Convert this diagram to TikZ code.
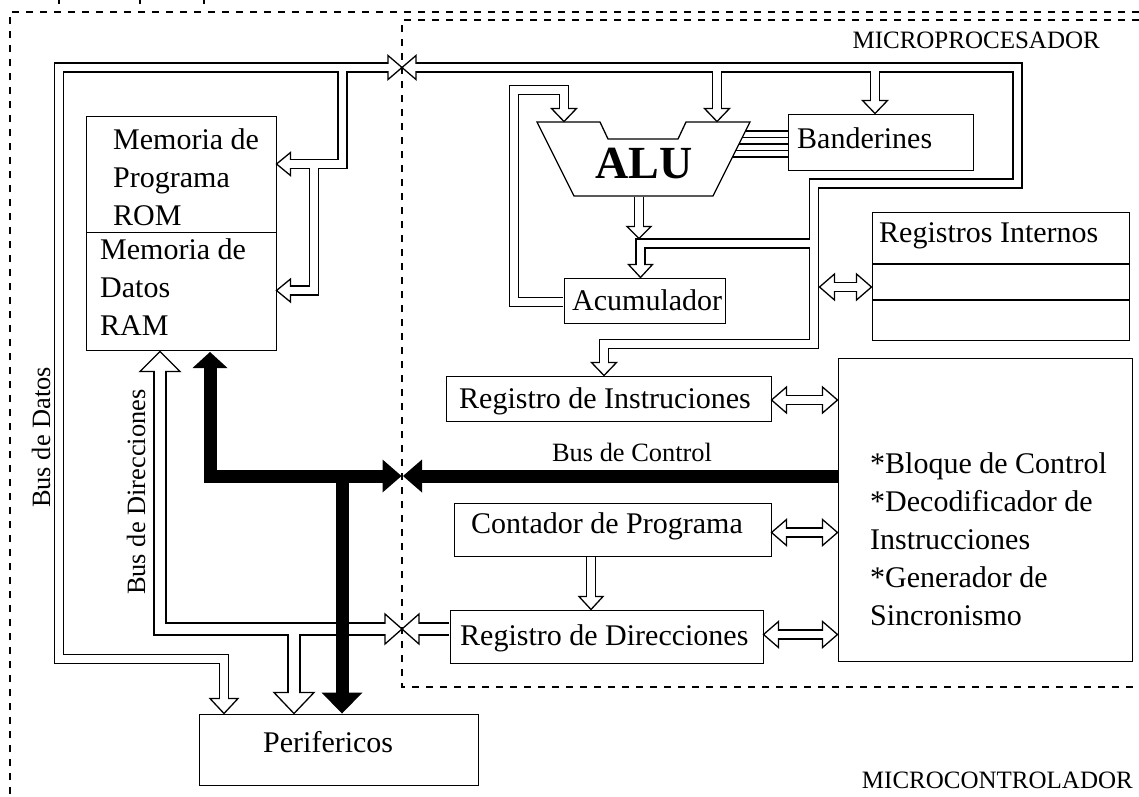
\documentclass[tikz,border=0pt]{standalone}
\usepackage{fontspec}
\setmainfont{Liberation Serif}
\usetikzlibrary{positioning,calc}

\tikzset{
  box/.style={draw, line width=1.3pt, inner sep=0pt, anchor=north west},
  lbl/.style={inner sep=0pt, font=\fontsize{30}{38}\selectfont},
  txt/.style={inner sep=0pt, align=left, anchor=north west, font=\fontsize{30}{38}\selectfont},
  buslbl/.style={inner sep=0pt, font=\fontsize{26.4}{30}\selectfont},
  zonelbl/.style={inner sep=0pt, font=\fontsize{25}{30}\selectfont},
  dashframe/.style={line width=1.3pt, dash pattern=on 7pt off 7pt},
  dbo/.style={line width=10.4pt, line join=miter},
  dbi/.style={line width=7.8pt, draw=white, line join=miter},
  abo/.style={line width=13.4pt, line join=miter},
  abi/.style={line width=10.8pt, draw=white, line join=miter},
  openhead/.style={draw, fill=white, line width=1.3pt, line join=miter},
  blackhead/.style={fill=black},
  cbus/.style={line width=13pt, line join=miter},
}

% tip, angle, length, half width, style
\newcommand{\busHead}[5]{%
  \path[#5, shift={(#1)}, rotate=#2] (0,0) -- (-#3,-#4) -- (-#3,#4) -- cycle;}

% data ribbons (centre lines)
\newcommand{\dataPaths}{%
  (224,700) -- (224,659) -- (59,659) -- (59,67.5) -- (389.5,67.5)
  (342.5,67.5) -- (342.5,164) -- (289,164)
  (314,164) -- (314,290.5) -- (289,290.5)
  (414.5,67.5) -- (1017.5,67.5) -- (1017.5,183.5) -- (814,183.5) -- (814,344) -- (604,344) -- (604,364)
  (814,243.5) -- (640.5,243.5) -- (640.5,266)
  (717,67.5) -- (717,110)
  (875,67.5) -- (875,102)
  (639,197) -- (639,228)
  (563,302) -- (514,302) -- (514,90) -- (564,90) -- (564,110)
  (591,557) -- (591,598)
  (833,287) -- (858,287)
  (785,400) -- (824,400)
  (785,532.5) -- (824,532.5)
  (777,634.5) -- (824,634.5)}

% address ribbons
\newcommand{\addrPaths}{%
  (160,370) -- (160,629) -- (386.5,629)
  (294,629) -- (294,694)
  (449,629) -- (417.5,629)}

\begin{document}
\begin{tikzpicture}[x=1pt, y=-1pt]
\useasboundingbox[fill=white] (0,0) rectangle (1139,796);

% frames
\draw[dashframe] (1139,12) -- (10,12) -- (10,796);
\draw[dashframe] (1139,20) -- (402,20) -- (402,687) -- (1139,687);
\foreach \tx in {59,140,204} \draw[line width=1.5pt] (\tx,0) -- (\tx,3.5);

% blocks
\node[box, minimum width=190pt, minimum height=116pt] (rom) at (86,116) {};
\node[box, minimum width=190pt, minimum height=118pt] (ram) at (86,232) {};
\node[box, minimum width=185pt, minimum height=56pt] (band) at (788,114) {};
\node[box, minimum width=161pt, minimum height=45pt] (acu) at (564,278) {};
\node[box, minimum width=257pt, minimum height=128pt] (regs) at (872,212) {};
\draw[line width=1.3pt] (872,264) -- (1129,264) (872,300) -- (1129,300);
\node[box, minimum width=325pt, minimum height=45pt] (ri) at (446,376) {};
\node[box, minimum width=317pt, minimum height=53pt] (pc) at (454,503) {};
\node[box, minimum width=313pt, minimum height=53pt] (rd) at (450,610) {};
\node[box, minimum width=294pt, minimum height=303pt] (ctl) at (838,358) {};
\node[box, minimum width=279pt, minimum height=71pt] (per) at (199,714) {};

% ALU
\draw[line width=1.3pt, line join=miter] (537,122) -- (600,122) -- (608,139) -- (678,139)
  -- (686,122) -- (750,122) -- (713,196) -- (574,196) -- cycle;
\foreach \fy in {131,137.5,144,150.5,157}
  \draw[line width=1.1pt] ({750-(\fy-122)/2},\fy) -- (788,\fy);

% ribbons: outer lines, heads, inner gap
\draw[dbo] \dataPaths;
\draw[abo] \addrPaths;
\foreach \tip/\ang/\len/\hw in {
  {224,713.5}/-90/15/14, {402,67.5}/0/14/12, {402,67.5}/180/14/12,
  {276.5,164}/180/14/11.5, {276.5,290.5}/180/14/11.5,
  {604,375.5}/-90/13/12.5, {640.5,277.5}/-90/13/12, {717,121.5}/-90/13/12.5,
  {875,113.5}/-90/13/12.5, {639,238.5}/-90/12/12, {564,121.5}/-90/13/12.5,
  {591,609.5}/-90/13/12,
  {819.5,287}/180/15/13, {871.5,287}/0/15/13,
  {771.5,400}/180/15/13, {837.5,400}/0/15/13,
  {771.5,532.5}/180/15/13, {837.5,532.5}/0/15/13,
  {763.5,634.5}/180/15/13, {837.5,634.5}/0/15/13,
  {160,351.5}/90/20/20, {402,629}/0/17/15, {402,629}/180/17/15,
  {294,713.5}/-90/21/20}
  \busHead{\tip}{\ang}{\len}{\hw}{openhead};
\draw[dbi] \dataPaths;
\draw[abi] \addrPaths;

% control bus
\draw[cbus] (838,476) -- (420,476);
\draw[cbus] (210,367) -- (210,476) -- (384,476);
\draw[cbus] (342,476) -- (342,693.5);
\foreach \tip/\ang/\len/\hw in {
  {403,476}/180/19/16.5, {401.5,476}/0/19/16.5,
  {210,352}/90/16/17.5, {342,713.5}/-90/21/20.5}
  \busHead{\tip}{\ang}{\len}{\hw}{blackhead};

% texts
\node[txt] (romT) at (113,128) {Memoria de\\Programa\\ROM};
\node[txt] (ramT) at (100,238) {Memoria de\\Datos\\RAM};
\node[lbl, anchor=base west] (bandT) at (797,148) {Banderines};
\node[lbl, anchor=base west] (acuT) at (572,310) {Acumulador};
\node[lbl, anchor=base west] (regsT) at (879,242) {Registros Internos};
\node[lbl, anchor=base west] (riT) at (459,408) {Registro de Instruciones};
\node[lbl, anchor=base west] (pcT) at (471,533) {Contador de Programa};
\node[lbl, anchor=base west] (rdT) at (460,645) {Registro de Direcciones};
\node[txt] (ctlT) at (870,452) {*Bloque de Control\\*Decodificador de\\Instrucciones\\*Generador de\\Sincronismo};
\node[lbl, anchor=base west] (perT) at (263,752) {Perifericos};
\node[inner sep=0pt, anchor=base west, font=\fontsize{46}{46}\selectfont\bfseries] (aluT) at (595,178) {ALU};
\node[zonelbl, anchor=base east] (upT) at (1100,48) {MICROPROCESADOR};
\node[zonelbl, anchor=base east] (ucT) at (1133,788) {MICROCONTROLADOR};
\node[buslbl, anchor=base] (cbT) at (632,461) {Bus de Control};
\node[buslbl, anchor=base west, rotate=90] (dbT) at (50,508) {Bus de Datos};
\node[buslbl, anchor=base west, rotate=90] (abT) at (145,595) {Bus de Direcciones};

\end{tikzpicture}
\end{document}
